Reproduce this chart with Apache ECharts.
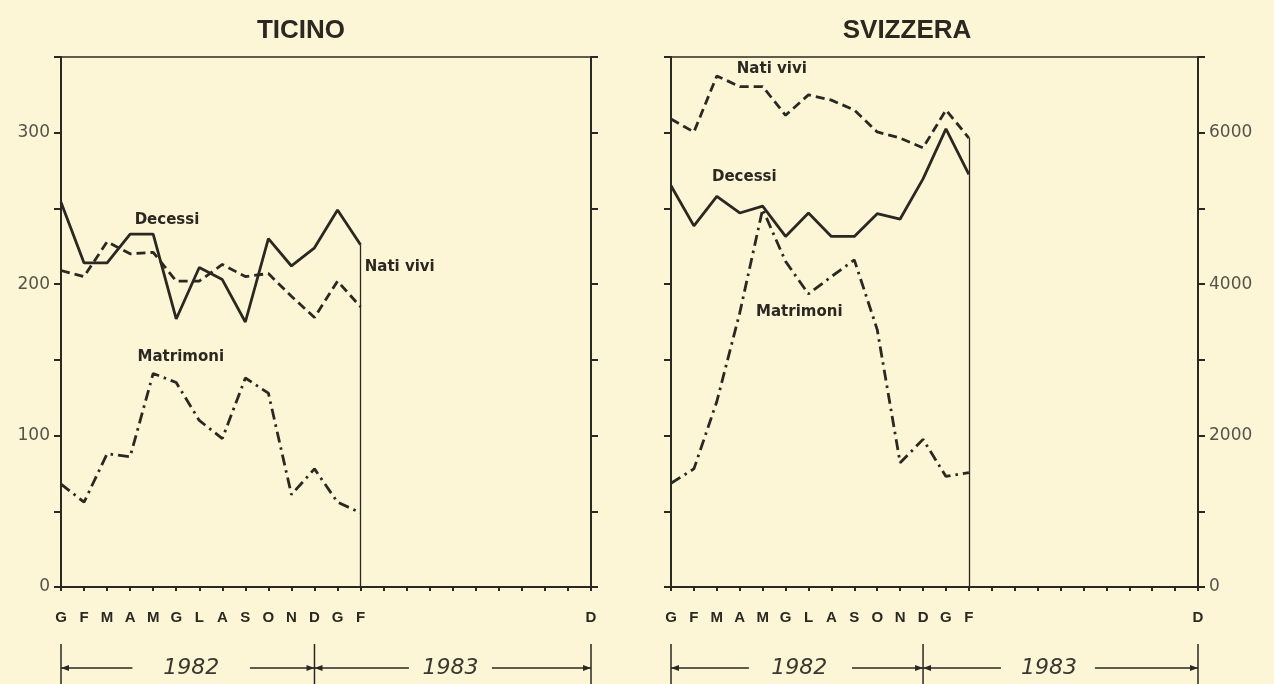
<!DOCTYPE html>
<html>
<head>
<meta charset="utf-8">
<script src="https://cdn.jsdelivr.net/npm/echarts@6/dist/echarts.min.js"></script>
<style>
  html, body { margin: 0; padding: 0; background: #fcf5d6; }
  #chart { width: 1274px; height: 684px; }
</style>
</head>
<body>
<div id="chart"></div>
<script>
// mesi da gennaio 1982 a dicembre 1983
const months = ['G','F','M','A','M','G','L','A','S','O','N','D','G','F','M','A','M','G','L','A','S','O','N','D'];
// etichette mostrate sull'asse
const shownMonths = [0,1,2,3,4,5,6,7,8,9,10,11,12,13,23];

const ticinoNati      = [209, 205, 228, 220, 221, 202, 202, 213, 205, 207, 192, 178, 202, 185];
const ticinoDecessi   = [254, 214, 214, 233, 233, 177, 211, 203, 175, 230, 212, 224, 249, 226];
const ticinoMatrimoni = [68, 56, 88, 86, 141, 135, 110, 98, 138, 128, 61, 78, 56, 49];

const svizzeraNati      = [6180, 6010, 6750, 6610, 6610, 6230, 6500, 6430, 6300, 6010, 5930, 5800, 6300, 5930];
const svizzeraDecessi   = [5300, 4770, 5160, 4940, 5030, 4630, 4940, 4630, 4630, 4930, 4860, 5390, 6050, 5450];
const svizzeraMatrimoni = [1370, 1560, 2450, 3620, 4990, 4300, 3870, 4100, 4320, 3400, 1640, 1950, 1460, 1510];

const ticinoTicks = [0, 100, 200, 300];
const svizzeraTicks = [0, 2000, 4000, 6000];

const ink = '#2b2822';
const font = 'Liberation Sans, Arial, sans-serif';
const wide = 'DejaVu Sans, Liberation Sans, sans-serif';

const pairs = arr => arr.map((v, i) => [i, v]);

function xAxisFor(g) {
    return {
        gridIndex: g, type: 'value', min: 0, max: 23, interval: 1,
        axisLine: { lineStyle: { color: ink, width: 2 } },
        axisTick: { length: 4, lineStyle: { color: ink, width: 2 } },
        splitLine: { show: false },
        axisLabel: {
            margin: 23, color: ink, fontWeight: 'bold', fontSize: 15, fontFamily: font,
            formatter: v => shownMonths.indexOf(v) >= 0 ? months[v] : ''
        }
    };
}

function yAxisFor(g, pos, max, interval, ticks) {
    return {
        gridIndex: g, type: 'value', position: pos, min: 0, max: max, interval: interval,
        axisLine: { show: true, lineStyle: { color: ink, width: 2 } },
        axisTick: { show: true, length: 7, lineStyle: { color: ink, width: 2 } },
        splitLine: { show: false },
        axisLabel: {
            show: !!ticks, margin: 11, color: '#57534b', fontSize: 17, fontFamily: wide,
            formatter: v => ticks && ticks.indexOf(v) >= 0 ? String(v) : ''
        }
    };
}

function lineSeries(name, data, g, yi, type, extra) {
    const s = {
        name: name, type: 'line', xAxisIndex: g, yAxisIndex: yi,
        data: pairs(data), showSymbol: false, silent: true,
        lineStyle: { color: ink, width: 2.8, type: type },
        z: 3
    };
    return Object.assign(s, extra || {});
}

function endLine(arrs) {
    const last = arrs[0].length - 1;
    const top = Math.max.apply(null, arrs.map(a => a[last]));
    return {
        symbol: 'none', silent: true, label: { show: false },
        lineStyle: { color: ink, width: 1.3, type: 'solid' },
        data: [[{ coord: [last, 0] }, { coord: [last, top] }]]
    };
}

const dashed = [9, 5];
const dashDot = [11, 5, 2.5, 5];

var myChart = echarts.init(document.getElementById('chart'));
var option = {
    backgroundColor: '#fcf5d6',
    animation: false,
    title: [
        { text: 'TICINO', left: 296, top: 13, textAlign: 'center',
          textStyle: { color: ink, fontSize: 26, fontWeight: 'bold', fontFamily: font } },
        { text: 'SVIZZERA', left: 902, top: 13, textAlign: 'center',
          textStyle: { color: ink, fontSize: 26, fontWeight: 'bold', fontFamily: font } }
    ],
    grid: [
        { left: 61, top: 57, width: 530, height: 530, show: true, borderColor: ink, borderWidth: 1.5, backgroundColor: 'transparent' },
        { left: 671, top: 57, width: 527, height: 530, show: true, borderColor: ink, borderWidth: 1.5, backgroundColor: 'transparent' }
    ],
    xAxis: [xAxisFor(0), xAxisFor(1)],
    yAxis: [
        yAxisFor(0, 'left', 350, 50, ticinoTicks),
        yAxisFor(0, 'right', 350, 50, null),
        yAxisFor(1, 'left', 7000, 1000, null),
        yAxisFor(1, 'right', 7000, 1000, svizzeraTicks)
    ],
    series: [
        lineSeries('Nati vivi', ticinoNati, 0, 0, dashed),
        lineSeries('Decessi', ticinoDecessi, 0, 0, 'solid', {
            markLine: endLine([ticinoNati, ticinoDecessi, ticinoMatrimoni])
        }),
        lineSeries('Matrimoni', ticinoMatrimoni, 0, 0, dashDot),
        lineSeries('Nati vivi', svizzeraNati, 1, 2, dashed, {
            markLine: endLine([svizzeraNati, svizzeraDecessi, svizzeraMatrimoni])
        }),
        lineSeries('Decessi', svizzeraDecessi, 1, 2, 'solid'),
        lineSeries('Matrimoni', svizzeraMatrimoni, 1, 2, dashDot)
    ]
};
myChart.setOption(option);

// etichette delle serie e parentesi degli anni
const seriesLabels = [
    { g: 0, yi: 0, text: 'Decessi', at: [4.6, 242] },
    { g: 0, yi: 0, text: 'Nati vivi', at: [14.7, 211] },
    { g: 0, yi: 0, text: 'Matrimoni', at: [5.2, 152] },
    { g: 1, yi: 2, text: 'Nati vivi', at: [4.4, 6840] },
    { g: 1, yi: 2, text: 'Decessi', at: [3.2, 5420] },
    { g: 1, yi: 2, text: 'Matrimoni', at: [5.6, 3630] }
];

const brackets = [
    { g: 0, segs: [[0, 3.1], [8.2, 11], [11, 15.1], [18.7, 23]], years: [[5.65, '1982'], [16.9, '1983']] },
    { g: 1, segs: [[0, 3.4], [7.9, 11], [11, 14.4], [18.5, 23]], years: [[5.6, '1982'], [16.5, '1983']] }
];

const graphics = [];
seriesLabels.forEach(l => {
    const p = myChart.convertToPixel({ xAxisIndex: l.g, yAxisIndex: l.yi }, l.at);
    graphics.push({
        type: 'text', x: p[0], y: p[1], silent: true, z: 10,
        style: { text: l.text, fill: ink, font: 'bold 15px ' + wide, textAlign: 'center', textVerticalAlign: 'middle' }
    });
});

const lineY = 668;
brackets.forEach(b => {
    const px = i => myChart.convertToPixel({ xAxisIndex: b.g, yAxisIndex: b.g * 2 }, [i, 0])[0];
    [0, 11, 23].forEach(i => {
        graphics.push({ type: 'line', silent: true,
            shape: { x1: px(i), y1: 644, x2: px(i), y2: 684 },
            style: { stroke: ink, lineWidth: 1.5 } });
    });
    b.segs.forEach(s => {
        graphics.push({ type: 'line', silent: true,
            shape: { x1: px(s[0]), y1: lineY, x2: px(s[1]), y2: lineY },
            style: { stroke: ink, lineWidth: 1.6 } });
    });
    // punte di freccia verso i tratti verticali
    const arrow = (x, dir) => graphics.push({ type: 'polygon', silent: true,
        shape: { points: [[x, lineY], [x + dir * 8, lineY - 3], [x + dir * 8, lineY + 3]] },
        style: { fill: ink } });
    arrow(px(0), 1);
    arrow(px(11), -1);
    arrow(px(11), 1);
    arrow(px(23), -1);
    b.years.forEach(y => {
        graphics.push({ type: 'text', silent: true, x: px(y[0]), y: lineY,
            style: { text: y[1], fill: '#3a3730', font: 'italic 22px ' + wide, textAlign: 'center', textVerticalAlign: 'middle' } });
    });
});

myChart.setOption({ graphic: graphics });
window.addEventListener('resize', () => {
    myChart.resize();
});
</script>
</body>
</html>
